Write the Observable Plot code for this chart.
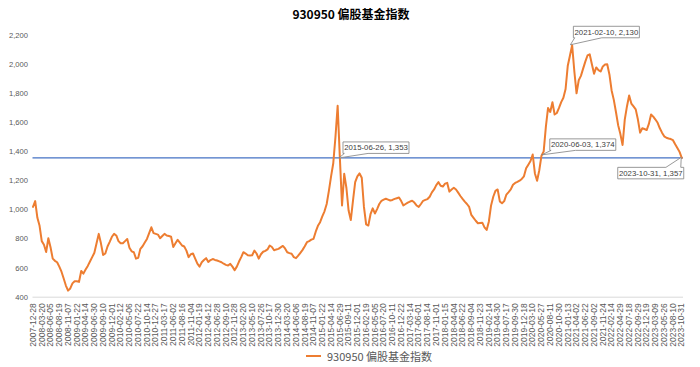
<!DOCTYPE html>
<html><head><meta charset="utf-8">
<script src="https://cdn.jsdelivr.net/npm/d3@7"></script>
<script src="https://cdn.jsdelivr.net/npm/@observablehq/plot@0.6"></script>
<style>
body{margin:0;background:#fff;}
#wrap{position:relative;width:700px;height:367px;}
#chart{position:absolute;top:0;left:0;}
#title{position:absolute;top:5px;left:1px;width:700px;text-align:center;font:bold 12px "Noto Sans CJK SC",sans-serif;color:#000;line-height:17px;}
#legend{position:absolute;top:348px;left:306px;display:flex;align-items:center;font:11px "Noto Sans CJK SC",sans-serif;color:#595959;line-height:16px;}
#legend .sw{display:inline-block;width:15px;height:2px;background:#ED7D31;margin-right:6px;}
</style></head>
<body>
<div id="wrap"><div id="chart"></div><div id="title"></div><div id="legend"><span class="sw"></span><span id="legtext"></span></div></div>
<script>
const seriesName = "930950 偏股基金指数";

const tickLabels = ["2007-12-28","2008-03-20","2008-06-05","2008-08-19","2008-11-07","2009-01-22","2009-04-14","2009-06-30","2009-09-10","2009-12-01","2010-02-12","2010-05-06","2010-07-22","2010-10-14","2010-12-27","2011-03-17","2011-06-02","2011-08-16","2011-11-04","2012-01-19","2012-04-12","2012-06-28","2012-09-10","2012-11-28","2013-02-20","2013-05-10","2013-07-26","2013-10-17","2013-12-30","2014-03-20","2014-06-06","2014-08-19","2014-11-07","2015-01-22","2015-04-14","2015-06-29","2015-09-11","2015-12-01","2016-02-19","2016-05-05","2016-07-20","2016-10-11","2016-12-22","2017-03-14","2017-06-01","2017-08-14","2017-11-01","2018-01-15","2018-04-04","2018-06-22","2018-09-04","2018-11-23","2019-02-14","2019-04-30","2019-07-17","2019-09-30","2019-12-18","2020-03-10","2020-05-27","2020-08-11","2020-10-30","2021-01-13","2021-04-02","2021-06-22","2021-09-02","2021-11-24","2022-02-14","2022-04-29","2022-07-18","2022-09-29","2022-12-19","2023-03-09","2023-05-26","2023-08-10","2023-10-31"];

// index values, four readings per labelled interval
const values = [
1020,1060,945,890, 785,760,710,805, 743,665,650,640, 610,575,528,480,
445,460,495,510, 510,505,580,562, 590,615,645,675, 705,770,835,770,
690,700,748,780, 815,835,824,785, 770,770,785,800, 740,715,709,665,
670,732,750,775, 800,840,880,840, 835,830,805,820, 835,824,820,815,
745,770,794,775, 755,748,720,675, 695,700,665,630, 610,640,655,668,
642,655,662,656, 652,646,640,630, 622,618,629,610, 585,610,645,675,
709,700,688,686, 688,720,700,665, 695,712,718,728, 755,745,722,728,
732,742,752,735, 709,703,698,675, 668,685,705,725, 750,778,785,795,
801,850,890,915, 955,990,1040,1130, 1230,1320,1500,1715, 1360,1030,1247,1150,
995,930,1064,1190, 1230,1250,1220,1020, 900,892,970,1010, 975,1005,1040,1062,
1070,1076,1070,1064, 1068,1075,1080,1085, 1060,1030,1040,1050, 1057,1062,1050,1030,
1020,1040,1062,1068, 1074,1090,1120,1140, 1170,1190,1165,1160, 1180,1185,1125,1140,
1152,1140,1118,1095, 1075,1056,1040,1020, 965,945,925,908, 910,912,880,862,
920,1030,1090,1130, 1140,1058,1045,1060, 1105,1122,1140,1172, 1185,1192,1200,1212,
1230,1285,1310,1335, 1380,1250,1200,1272, 1372,1400,1570,1700, 1672,1739,1655,1665,
1700,1740,1770,1830, 1990,2060,2130,1950, 1800,1890,1920,1970, 2018,2060,2068,2000,
1935,1978,1960,1950, 1985,1998,2000,1930, 1820,1755,1670,1580, 1520,1445,1620,1710,
1785,1730,1710,1690, 1620,1530,1560,1555, 1548,1590,1655,1640, 1620,1598,1560,1530,
1505,1495,1490,1486, 1478,1450,1425,1398, 1357
];
const stepsPerLabel = 4;

const annDates = ["2015-06-26","2020-06-03","2021-02-10","2023-10-31"];
const annValues = [1353, 1374, 2130, 1357];

const yTicks = [400,600,800,1000,1200,1400,1600,1800,2000,2200];

// ---- derived ----
const labelTimes = tickLabels.map(s => new Date(s + "T00:00:00Z").getTime());
function datePos(s) {
  const t = new Date(s + "T00:00:00Z").getTime();
  for (let i = 0; i < labelTimes.length - 1; i++) {
    if (t >= labelTimes[i] && t <= labelTimes[i+1]) return i + (t - labelTimes[i]) / (labelTimes[i+1] - labelTimes[i]);
  }
  return labelTimes.length - 1;
}
const annPos = annDates.map(datePos);
const refLevel = values[values.length - 1];

// callout box placement (offset of the box's top-left from the pointed value, px) and wedge base fractions
const calloutStyle = [
  {dx: 4, dy: -16, side: "bottom", b1: 0.02, b2: 0.38},
  {dx: 8, dy: -16, side: "bottom", b1: 0.02, b2: 0.39},
  {dx: 3, dy: -18.5, side: "bottom", b1: 0.02, b2: 0.43},
  {dx: -63.5, dy: 10, side: "top", b1: 0.73, b2: 0.955}
];

function callouts(index, scales, vals, dims, ctx) {
  const sc = (scales && typeof scales.x === "function") ? scales : index;
  const g = d3.create("svg:g");
  const w = 66, h = 11.5;
  annDates.forEach((d, k) => {
    const px = sc.x(annPos[k]), py = sc.y(annValues[k]);
    const o = calloutStyle[k];
    const x0 = px + o.dx, y0 = py + o.dy;
    let p;
    if (o.side === "bottom") {
      p = `M${x0},${y0}H${x0+w}V${y0+h}H${x0+w*o.b2}L${px},${py}L${x0+w*o.b1},${y0+h}H${x0}Z`;
    } else {
      p = `M${x0},${y0}H${x0+w*o.b1}L${px},${py}L${x0+w*o.b2},${y0}H${x0+w}V${y0+h}H${x0}Z`;
    }
    g.append("path").attr("d", p).attr("fill", "#fff").attr("stroke", "#7f7f7f").attr("stroke-width", 0.8);
    g.append("text").attr("x", x0 + w/2).attr("y", y0 + h/2).attr("dy", "0.35em")
      .attr("text-anchor", "middle").attr("font-family", "Liberation Sans, Arial, sans-serif")
      .attr("font-size", 7.8).attr("fill", "#404040")
      .text(`${d}, ${d3.format(",")(annValues[k])}`);
  });
  return g.node();
}

const plot = Plot.plot({
  width: 700, height: 367,
  marginLeft: 32.5, marginRight: 17, marginTop: 34.6, marginBottom: 70.3,
  style: {fontFamily: "Liberation Sans, Arial, sans-serif", background: "#fff"},
  x: {domain: [0, tickLabels.length - 1 + 0.2]},
  y: {domain: [400, 2200]},
  marks: [
    Plot.ruleY([400], {stroke: "#d9d9d9", strokeWidth: 1}),
    Plot.axisY({ticks: yTicks, tickFormat: d3.format(","), tickSize: 0, tickPadding: 5, label: null, color: "#595959", fontSize: 7.6}),
    Plot.axisX({ticks: d3.range(tickLabels.length), tickFormat: i => tickLabels[i], tickRotate: -90, tickSize: 0, tickPadding: 6, label: null, color: "#595959", fontSize: 8.5}),
    Plot.ruleY([refLevel], {stroke: "#4472C4", strokeWidth: 1.3}),
    Plot.lineY(values, {x: (d, i) => i / stepsPerLabel, y: d => d, stroke: "#ED7D31", strokeWidth: 2}),
    callouts
  ]
});
document.getElementById("chart").appendChild(plot);
document.getElementById("title").textContent = seriesName;
document.getElementById("legtext").textContent = seriesName;
</script>
</body></html>
